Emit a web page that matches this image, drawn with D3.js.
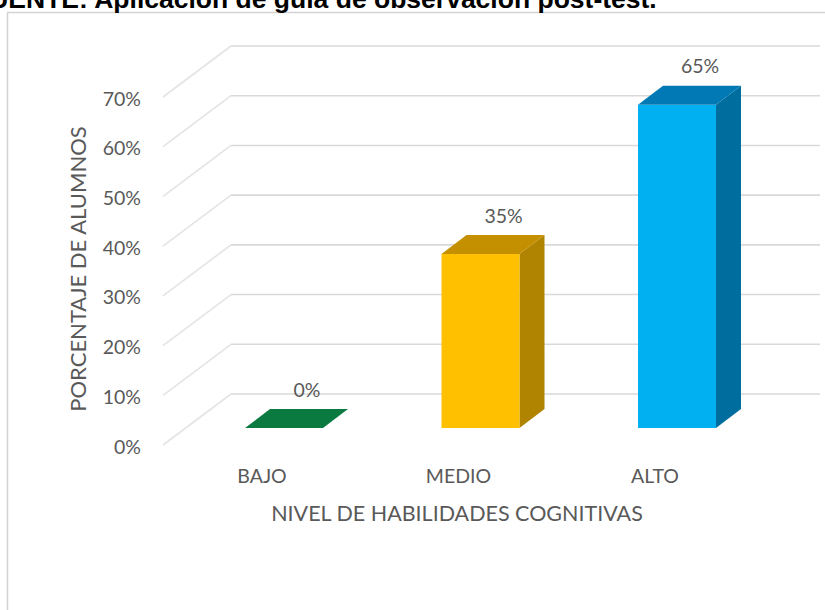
<!DOCTYPE html>
<html>
<head>
<meta charset="utf-8">
<script src="https://cdn.jsdelivr.net/npm/d3@7"></script>
<style>
  html, body { margin: 0; padding: 0; background: #fff; }
  svg { display: block; }
</style>
</head>
<body>
<svg id="chart" width="825" height="610"></svg>
<script>
// ---- data ----
const categories = ["BAJO", "MEDIO", "ALTO"];
const values = [0, 0.35, 0.65];
const valueLabels = ["0%", "35%", "65%"];
const tickValues = [0, 0.1, 0.2, 0.3, 0.4, 0.5, 0.6, 0.7];
const tickLabels = ["0%", "10%", "20%", "30%", "40%", "50%", "60%", "70%"];
const frontColors = ["#00874a", "#ffc000", "#00b0f0"];
const topColors = ["#0a7a40", "#c49000", "#0079b4"];
const sideColors = ["#06693a", "#b08300", "#006d9f"];
const titleText = "FUENTE: Aplicación de guía de observación post-test.";
const yTitle = "PORCENTAJE DE ALUMNOS";
const xTitle = "NIVEL DE HABILIDADES COGNITIVAS";

const svg = d3.select("#chart");
const font = "Lato, 'Open Sans', sans-serif";
const textColor = "#595959";

// chart border
svg.append("rect").attr("x", 7.5).attr("y", 12.5).attr("width", 830).attr("height", 620)
  .attr("fill", "none").attr("stroke", "#d4d4d4").attr("stroke-width", 1.5);

// title (cut at top)
svg.append("text").attr("x", -27).attr("y", 7.5)
  .attr("font-family", "Arial, 'Liberation Sans', sans-serif")
  .attr("font-weight", "bold").attr("font-size", 26.5).attr("fill", "#000")
  .text(titleText);

// scales
const yBack = d3.scaleLinear().domain([0, 0.7]).range([394, 46]);
const wallDx = 68, wallDy = 51;           // front floor offset relative to back wall
const backX0 = 231, backX1 = 820;
const yBar = d3.scaleLinear().domain([0, 0.7]).range([428, 80]);
const xc = d3.scalePoint().domain(categories).range([284, 677]);
const barW = 78, depX = 25, depY = 19;

// gridlines
const grid = svg.append("g");
tickValues.forEach(v => {
  const yb = yBack(v);
  grid.append("line").attr("x1", backX0).attr("x2", backX1).attr("y1", yb).attr("y2", yb)
    .attr("stroke", "#d9d9d9").attr("stroke-width", 1.6);
  grid.append("line").attr("x1", backX0 - wallDx).attr("y1", yb + wallDy)
    .attr("x2", backX0).attr("y2", yb)
    .attr("stroke", "#e4e4e4").attr("stroke-width", 1.6);
});

// y tick labels
svg.append("g").selectAll("text").data(tickValues).join("text")
  .attr("x", 141).attr("y", (d) => yBack(d) + wallDy + 1)
  .attr("text-anchor", "end").attr("dominant-baseline", "central")
  .attr("font-family", font).attr("font-size", 19.5).attr("fill", textColor)
  .text((d, i) => tickLabels[i]);

// bars
const bars = svg.append("g");
categories.forEach((c, i) => {
  const v = values[i];
  const x0 = xc(c) - barW / 2, x1 = x0 + barW;
  const yb = yBar(0), yt = yBar(v);
  // side face
  bars.append("path")
    .attr("d", `M${x1},${yt} L${x1 + depX},${yt - depY} L${x1 + depX},${yb - depY} L${x1},${yb} Z`)
    .attr("fill", sideColors[i]);
  // front face
  if (yb - yt > 0.5) {
    bars.append("rect").attr("x", x0).attr("y", yt).attr("width", barW).attr("height", yb - yt)
      .attr("fill", frontColors[i]);
  }
  // top face
  bars.append("path")
    .attr("d", `M${x0},${yt} L${x0 + depX},${yt - depY} L${x1 + depX},${yt - depY} L${x1},${yt} Z`)
    .attr("fill", topColors[i]);
  // value label
  bars.append("text").attr("x", xc(c) + 23).attr("y", yt - depY - 20)
    .attr("text-anchor", "middle").attr("dominant-baseline", "central")
    .attr("font-family", font).attr("font-size", 19.5).attr("fill", textColor)
    .text(valueLabels[i]);
});

// category labels
svg.append("g").selectAll("text").data(categories).join("text")
  .attr("x", d => xc(d) - 22).attr("y", 475)
  .attr("text-anchor", "middle").attr("dominant-baseline", "central")
  .attr("font-family", font).attr("font-size", 19.5).attr("fill", textColor)
  .text(d => d);

// axis titles
svg.append("text").attr("x", 457).attr("y", 513)
  .attr("text-anchor", "middle").attr("dominant-baseline", "central")
  .attr("font-family", font).attr("font-size", 21.5).attr("fill", textColor)
  .text(xTitle);

svg.append("text").attr("transform", "translate(77,269) rotate(-90)")
  .attr("text-anchor", "middle").attr("dominant-baseline", "central")
  .attr("font-family", font).attr("font-size", 22).attr("fill", textColor)
  .text(yTitle);
</script>
</body>
</html>
